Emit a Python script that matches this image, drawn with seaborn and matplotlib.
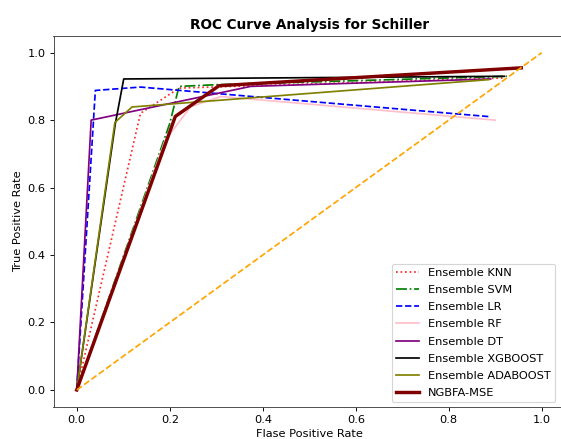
import matplotlib
matplotlib.use("Agg")
import matplotlib.pyplot as plt
import seaborn as sns
import pandas as pd

plt.rcParams['font.family'] = ['DejaVu Sans']

DPI = 82

names = ["Ensemble KNN", "Ensemble SVM", "Ensemble LR", "Ensemble RF",
         "Ensemble DT", "Ensemble XGBOOST", "Ensemble ADABOOST", "NGBFA-MSE"]

knn_fpr = [0.0, 0.137, 0.22, 0.92]
knn_tpr = [0.0, 0.82, 0.895, 0.925]
svm_fpr = [0.0, 0.20, 0.22, 0.30, 0.925]
svm_tpr = [0.0, 0.79, 0.90, 0.905, 0.93]
lr_fpr = [0.0, 0.04, 0.137, 0.89]
lr_tpr = [0.0, 0.888, 0.898, 0.81]
rf_fpr = [0.0, 0.19, 0.245, 0.31, 0.90]
rf_tpr = [0.0, 0.74, 0.84, 0.87, 0.80]
dt_fpr = [0.0, 0.031, 0.374, 0.89]
dt_tpr = [0.0, 0.80, 0.90, 0.922]
xgb_fpr = [0.0, 0.083, 0.101, 0.92]
xgb_tpr = [0.0, 0.79, 0.922, 0.93]
ada_fpr = [0.0, 0.082, 0.119, 0.886]
ada_tpr = [0.0, 0.793, 0.839, 0.92]
ngb_fpr = [0.0, 0.212, 0.306, 0.956]
ngb_tpr = [0.0, 0.811, 0.902, 0.955]
diag = [0.0, 1.0]

series = [
    (knn_fpr, knn_tpr, "red", (0, (1, 1.65)), 1.5, 0.85),
    (svm_fpr, svm_tpr, "green", (0, (6.4, 1.6, 1, 1.6)), 1.5, 1.0),
    (lr_fpr, lr_tpr, "blue", (0, (3.7, 1.6)), 1.5, 1.0),
    (rf_fpr, rf_tpr, "pink", "-", 1.5, 1.0),
    (dt_fpr, dt_tpr, "purple", "-", 1.5, 1.0),
    (xgb_fpr, xgb_tpr, "black", "-", 1.5, 1.0),
    (ada_fpr, ada_tpr, "olive", "-", 1.5, 1.0),
    (ngb_fpr, ngb_tpr, "maroon", "-", 3.0, 1.0),
]

fig = plt.figure(figsize=(561/DPI, 439/DPI), dpi=DPI)
ax = fig.add_axes([53.5/561, 1 - 406.8/439, 1.1*465/561, 371/439])

for name, (fx, ty, col, ls, lw, al) in zip(names, series):
    df = pd.DataFrame({"fpr": fx, "tpr": ty})
    sns.lineplot(data=df, x="fpr", y="tpr", sort=False, color=col, linestyle=ls,
                 linewidth=lw, alpha=al, label=name, ax=ax, estimator=None)

sns.lineplot(x=diag, y=diag, color="orange", linestyle=(0, (3.7, 1.6)), linewidth=1.5,
             ax=ax, estimator=None)

ax.set_xlim(-0.05, 1.05)
ax.set_ylim(-0.05, 1.05)
ax.set_xticks([0, 0.2, 0.4, 0.6, 0.8, 1.0])
ax.set_yticks([0, 0.2, 0.4, 0.6, 0.8, 1.0])
ax.set_title("ROC Curve Analysis for Schiller", fontweight="bold", fontsize=12)
ax.set_xlabel("Flase Positive Rate")
ax.set_ylabel("True Positive Rate")
ax.legend(loc="lower right", bbox_to_anchor=(560/561, 1 - 406.8/439),
          bbox_transform=fig.transFigure, borderaxespad=0.4, labelspacing=0.62,
          handlelength=2.0)
for s in ax.spines.values():
    s.set_color("#444444")

fig.savefig("out.png", dpi=DPI)
